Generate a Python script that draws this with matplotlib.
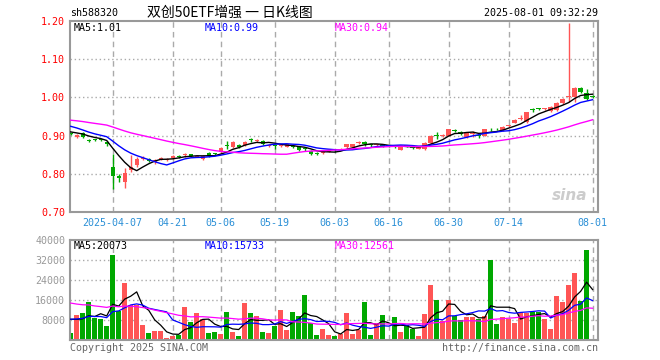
import matplotlib
matplotlib.use("Agg")
import matplotlib.pyplot as plt
import numpy as np
import pandas as pd

# daily OHLC + volume, 2025-03-26 .. 2025-08-01
opens = [0.905, 0.897, 0.908, 0.888, 0.891, 0.890, 0.884, 0.818, 0.794, 0.779,
         0.810, 0.823, 0.838, 0.840, 0.831, 0.838, 0.836, 0.841, 0.847, 0.849,
         0.851, 0.845, 0.840, 0.855, 0.853, 0.856, 0.874, 0.870, 0.876, 0.876,
         0.890, 0.886, 0.886, 0.873, 0.876, 0.872, 0.871, 0.874, 0.870, 0.866,
         0.860, 0.854, 0.855, 0.858, 0.863, 0.863, 0.870, 0.871, 0.881, 0.883,
         0.877, 0.875, 0.876, 0.874, 0.872, 0.863, 0.874, 0.870, 0.866, 0.864,
         0.880, 0.900, 0.898, 0.900, 0.915, 0.910, 0.896, 0.904, 0.901, 0.900,
         0.918, 0.918, 0.914, 0.925, 0.934, 0.943, 0.936, 0.968, 0.972, 0.969,
         0.965, 0.967, 0.985, 1.001, 1.002, 1.024, 1.012, 1.004]
highs = [0.907, 0.905, 0.909, 0.890, 0.892, 0.892, 0.886, 0.852, 0.799, 0.815,
         0.849, 0.843, 0.846, 0.842, 0.838, 0.843, 0.842, 0.849, 0.848, 0.855,
         0.853, 0.850, 0.848, 0.857, 0.855, 0.869, 0.886, 0.885, 0.878, 0.885,
         0.893, 0.891, 0.888, 0.877, 0.878, 0.876, 0.879, 0.876, 0.872, 0.869,
         0.862, 0.856, 0.860, 0.862, 0.865, 0.867, 0.879, 0.879, 0.886, 0.886,
         0.879, 0.879, 0.878, 0.876, 0.874, 0.874, 0.876, 0.872, 0.871, 0.882,
         0.901, 0.909, 0.904, 0.918, 0.917, 0.912, 0.910, 0.913, 0.903, 0.918,
         0.920, 0.920, 0.926, 0.929, 0.944, 0.955, 0.963, 0.972, 0.973, 0.973,
         0.977, 0.988, 0.998, 1.195, 1.028, 1.028, 1.022, 1.007]
lows = [0.901, 0.895, 0.894, 0.882, 0.887, 0.886, 0.874, 0.760, 0.779, 0.763,
        0.806, 0.818, 0.835, 0.831, 0.826, 0.835, 0.834, 0.839, 0.842, 0.845,
        0.844, 0.843, 0.836, 0.845, 0.848, 0.854, 0.866, 0.868, 0.867, 0.874,
        0.884, 0.884, 0.875, 0.871, 0.864, 0.869, 0.869, 0.868, 0.860, 0.860,
        0.849, 0.848, 0.853, 0.856, 0.858, 0.861, 0.868, 0.868, 0.877, 0.874,
        0.871, 0.873, 0.869, 0.869, 0.867, 0.861, 0.869, 0.865, 0.864, 0.862,
        0.878, 0.891, 0.896, 0.898, 0.910, 0.901, 0.893, 0.896, 0.894, 0.898,
        0.913, 0.914, 0.912, 0.922, 0.932, 0.941, 0.934, 0.963, 0.966, 0.967,
        0.963, 0.965, 0.983, 0.988, 0.988, 1.012, 0.994, 0.999]
closes = [0.903, 0.902, 0.896, 0.886, 0.889, 0.888, 0.877, 0.795, 0.790, 0.801,
          0.817, 0.838, 0.842, 0.833, 0.836, 0.840, 0.840, 0.847, 0.845, 0.851,
          0.846, 0.847, 0.846, 0.847, 0.851, 0.867, 0.872, 0.883, 0.869, 0.883,
          0.888, 0.888, 0.877, 0.875, 0.873, 0.874, 0.877, 0.871, 0.862, 0.864,
          0.853, 0.852, 0.858, 0.860, 0.861, 0.865, 0.877, 0.877, 0.884, 0.877,
          0.876, 0.877, 0.871, 0.872, 0.870, 0.872, 0.872, 0.868, 0.869, 0.880,
          0.899, 0.898, 0.901, 0.916, 0.913, 0.903, 0.908, 0.906, 0.899, 0.916,
          0.916, 0.916, 0.923, 0.927, 0.942, 0.945, 0.961, 0.966, 0.970, 0.971,
          0.975, 0.986, 0.996, 1.004, 1.024, 1.015, 0.997, 1.002]
volumes = [2700, 9870, 10670, 15070, 8670, 8270, 5470, 33870, 11470, 22670,
           14130, 14130, 5870, 2670, 3470, 3470, 800, 1470, 2130, 13070,
           7070, 10670, 8270, 2670, 3070, 2270, 11070, 3070, 1470, 14670,
           10670, 9470, 3070, 2670, 5470, 11870, 3870, 11070, 9470, 17870,
           6670, 1870, 4270, 2000, 1600, 2270, 10800, 2400, 4000, 15200,
           2000, 6800, 10000, 400, 9200, 3200, 6000, 4400, 1600, 10400,
           22000, 16000, 7600, 16000, 9600, 8000, 9200, 9200, 8400, 9600,
           32000, 6400, 9200, 8400, 6800, 11200, 10800, 11200, 11200, 8400,
           4400, 17600, 15200, 22000, 26800, 15600, 36000, 400]

# estimated history before the window, only used to warm up the moving averages
prior_closes = [0.950, 0.955, 0.960, 0.958, 0.952, 0.948, 0.945, 0.950, 0.955, 0.958,
                0.952, 0.945, 0.940, 0.942, 0.948, 0.950, 0.946, 0.940, 0.935, 0.938,
                0.945, 0.948, 0.942, 0.935, 0.925, 0.915, 0.910, 0.912, 0.908]
prior_volumes = [22000, 19000, 17000, 21000, 16000, 15000, 18000, 20000, 14000, 17000,
                 19000, 16000, 15000, 22000, 18000, 17000, 16000, 19000, 21000, 18000,
                 9000, 8000, 7500, 9000, 8500, 10000, 9500, 8800, 10300]

tick_pos = [7, 17, 25, 34, 44, 53, 63, 73, 87]
tick_labels = ["2025-04-07", "04-21", "05-06", "05-19", "06-03",
               "06-16", "06-30", "07-14", "08-01"]
price_ticks = [0.70, 0.80, 0.90, 1.00, 1.10, 1.20]
vol_ticks = [8000, 16000, 24000, 32000, 40000]

RED = "#ff5555"
GREEN = "#00a800"
GRID = "#aaaaaa"
FRAME = "#999999"
MONO = "DejaVu Sans Mono"
FS = 7.2

n = len(closes)
x = np.arange(n)

all_c = pd.Series(prior_closes + closes)
all_v = pd.Series(prior_volumes + volumes)
k = len(prior_closes)
ma_p = {w: all_c.rolling(w).mean().values[k:] for w in (5, 10, 30)}
ma_v = {w: all_v.rolling(w).mean().values[k:] for w in (5, 10, 30)}

fig = plt.figure(figsize=(6.6, 3.6), dpi=100)
ax = fig.add_axes([70 / 660, 1 - 212 / 360, 528 / 660, 191 / 360])
axv = fig.add_axes([70 / 660, 1 - 340 / 360, 528 / 660, 100 / 360])

up = np.array(closes) >= np.array(opens)
colors = [RED if u else GREEN for u in up]

# candles
ax.vlines(x, lows, highs, colors=colors, linewidth=1, zorder=3)
body_bottom = np.minimum(opens, closes)
body_h = np.maximum(np.abs(np.array(closes) - np.array(opens)), 0.0025)
ax.bar(x, body_h, bottom=body_bottom, width=0.72, color=colors, linewidth=0, zorder=3)

ax.plot(x, ma_p[5], color="black", linewidth=1, zorder=4)
ax.plot(x, ma_p[10], color="blue", linewidth=1, zorder=4)
ax.plot(x, ma_p[30], color="magenta", linewidth=1, zorder=4)

# volume bars
axv.bar(x, volumes, width=0.8, color=colors, linewidth=0, zorder=2)
axv.plot(x, ma_v[5], color="black", linewidth=0.9, zorder=3)
axv.plot(x, ma_v[10], color="blue", linewidth=0.9, zorder=3)
axv.plot(x, ma_v[30], color="magenta", linewidth=0.9, zorder=3)

for a in (ax, axv):
    a.set_xlim(-0.12, 87.9)
    for s in a.spines.values():
        s.set_color(FRAME)
        s.set_linewidth(1.5)
    for p in tick_pos:
        a.axvline(p, color=GRID, linestyle=(0, (4, 3)), linewidth=1, zorder=1)
    a.tick_params(length=0)

ax.set_ylim(0.70, 1.20)
ax.set_yticks(price_ticks)
ax.set_yticklabels([f"{t:.2f}" for t in price_ticks], color="red",
                   fontsize=FS, family=MONO)
for t in price_ticks[1:-1]:
    ax.axhline(t, color=GRID, linestyle=(0, (1, 2)), linewidth=1, zorder=1)
ax.set_xticks(tick_pos)
ax.set_xticklabels(tick_labels, color="#2a8fd6", fontsize=FS, family=MONO)
ax.tick_params(axis="x", pad=4)

axv.set_ylim(0, 40000)
axv.set_yticks(vol_ticks)
axv.set_yticklabels([str(t) for t in vol_ticks], color="#999999",
                    fontsize=FS, family=MONO)
for t in vol_ticks[:-1]:
    axv.axhline(t, color=GRID, linestyle=(0, (1, 2)), linewidth=1, zorder=1)
axv.set_xticks([])

# header texts
fig.text(70 / 660, 1 - 13 / 360, "sh588320", fontsize=FS, family=MONO,
         va="center", ha="left")
fig.text(230 / 660, 1 - 13 / 360, "双创50ETF增强 一 日K线图", fontsize=10,
         family=["Noto Sans CJK SC", "DejaVu Sans"], va="center", ha="center")
fig.text(598 / 660, 1 - 13 / 360, "2025-08-01 09:32:29", fontsize=FS,
         family=MONO, va="center", ha="right")

# MA legends
fig.text(74 / 660, 1 - 28 / 360, f"MA5:{ma_p[5][-1]:.2f}", fontsize=FS,
         family=MONO, color="black", va="center")
fig.text(205 / 660, 1 - 28 / 360, f"MA10:{ma_p[10][-1]:.2f}", fontsize=FS,
         family=MONO, color="blue", va="center")
fig.text(335 / 660, 1 - 28 / 360, f"MA30:{ma_p[30][-1]:.2f}", fontsize=FS,
         family=MONO, color="magenta", va="center")
fig.text(74 / 660, 1 - 246 / 360, "MA5:20073", fontsize=FS,
         family=MONO, color="black", va="center")
fig.text(205 / 660, 1 - 246 / 360, "MA10:15733", fontsize=FS,
         family=MONO, color="blue", va="center")
fig.text(335 / 660, 1 - 246 / 360, "MA30:12561", fontsize=FS,
         family=MONO, color="magenta", va="center")

# footer + watermark
fig.text(70 / 660, 1 - 348 / 360, "Copyright 2025 SINA.COM", fontsize=FS,
         family=MONO, color="#666666", va="center")
fig.text(598 / 660, 1 - 348 / 360, "http://finance.sina.com.cn", fontsize=FS,
         family=MONO, color="#666666", va="center", ha="right")
fig.text(570 / 660, 1 - 196 / 360, "sina", fontsize=11, fontweight="bold",
         style="italic", color="#cccccc", va="center", ha="center")

fig.savefig("out.png", dpi=100)
